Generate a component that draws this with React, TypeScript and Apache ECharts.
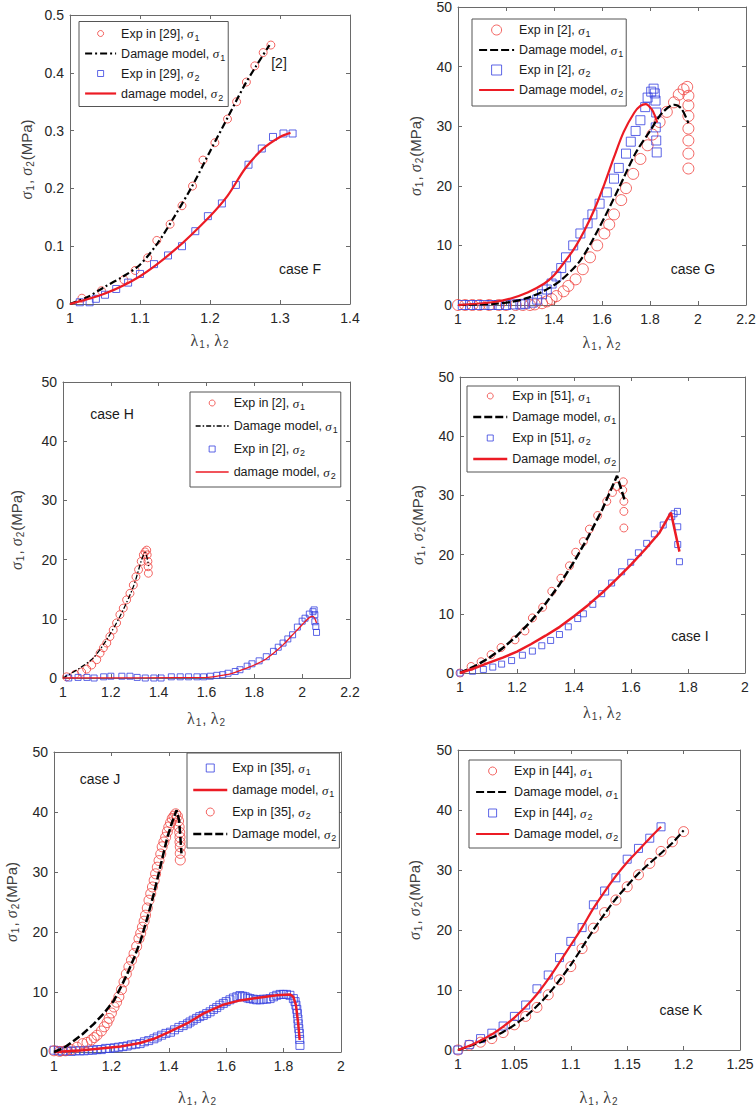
import React, { useEffect, useRef } from 'react';
import * as echarts from 'echarts';

// ---------------- Data (λ, σ) ----------------
// Case F
const fExpS1 = [[1.017,0.010],[1.045,0.023],[1.077,0.042],[1.093,0.058],[1.111,0.080],[1.124,0.110],[1.143,0.138],[1.160,0.170],[1.175,0.204],[1.190,0.249],[1.207,0.279],[1.225,0.320],[1.238,0.350],[1.252,0.384],[1.264,0.412],[1.276,0.435],[1.287,0.448]];
const fModelS1 = [[1,0],[1.025,0.012],[1.05,0.030],[1.075,0.047],[1.1,0.068],[1.125,0.105],[1.15,0.153],[1.175,0.205],[1.2,0.264],[1.225,0.322],[1.25,0.380],[1.265,0.41],[1.285,0.448]];
const fExpS2 = [[1.014,0.003],[1.028,0.003],[1.037,0.009],[1.05,0.016],[1.066,0.026],[1.083,0.037],[1.1,0.052],[1.12,0.069],[1.14,0.084],[1.16,0.100],[1.179,0.126],[1.197,0.152],[1.217,0.174],[1.237,0.206],[1.255,0.241],[1.274,0.269],[1.29,0.289],[1.305,0.295],[1.318,0.295]];
const fModelS2 = [[1,0],[1.05,0.018],[1.1,0.048],[1.15,0.094],[1.2,0.152],[1.225,0.187],[1.25,0.234],[1.275,0.268],[1.3,0.289],[1.315,0.296]];

// Case G
const gExpS1 = [[1.00,0],[1.03,0],[1.06,0],[1.09,0],[1.13,0],[1.17,0],[1.20,0],[1.24,0],[1.27,0],[1.30,0],[1.32,0.1],[1.35,0.3],[1.37,0.6],[1.39,1.0],[1.41,1.5],[1.44,2.3],[1.46,3.2],[1.49,4.3],[1.52,6.0],[1.55,8.0],[1.58,10.0],[1.61,12.0],[1.63,13.5],[1.65,15.2],[1.68,17.6],[1.70,19.6],[1.73,22.0],[1.76,24.5],[1.79,26.8],[1.81,28.6],[1.84,30.7],[1.87,32.4],[1.90,34.0],[1.92,35.3],[1.94,36.2],[1.955,36.6],[1.96,35.1],[1.96,33.5],[1.96,31.7],[1.96,29.6],[1.96,27.6],[1.96,25.4],[1.96,22.9]];
const gModelS1 = [[1,0],[1.15,0.2],[1.22,0.5],[1.29,1.2],[1.36,2.4],[1.43,4.2],[1.51,7.5],[1.59,13.1],[1.67,19.6],[1.74,25.5],[1.80,29.2],[1.85,32.2],[1.90,33.6],[1.93,33.0],[1.96,30.5]];
const gExpS2 = [[1.02,0],[1.05,0],[1.08,0],[1.11,0],[1.14,0],[1.17,0],[1.20,0],[1.23,0.1],[1.26,0.1],[1.28,0.2],[1.31,0.4],[1.33,0.9],[1.35,1.8],[1.37,2.6],[1.39,3.6],[1.41,4.8],[1.43,6.2],[1.45,8.0],[1.48,10.0],[1.51,12.0],[1.54,13.7],[1.56,15.2],[1.59,17.0],[1.62,18.9],[1.65,21.2],[1.67,23.0],[1.70,25.4],[1.72,27.4],[1.74,29.2],[1.76,31.0],[1.78,33.2],[1.79,34.8],[1.805,35.8],[1.815,36.3],[1.82,35.5],[1.823,34.3],[1.826,32.3],[1.824,29.8],[1.826,27.6],[1.828,25.6]];
const gModelS2 = [[1,0],[1.15,0.5],[1.22,1.1],[1.29,2.1],[1.36,3.6],[1.40,5.0],[1.44,7.0],[1.485,9.5],[1.527,12.5],[1.57,16.2],[1.61,20.3],[1.65,24.8],[1.69,29.0],[1.735,32.3],[1.76,33.4],[1.782,33.7],[1.806,32.9],[1.82,31.8],[1.83,30.6]];

// Case H
const hExpS1 = [[1.015,0.2],[1.05,0.6],[1.078,1.0],[1.099,1.5],[1.12,2.2],[1.141,3.1],[1.155,4.2],[1.169,5.1],[1.183,5.9],[1.196,7.0],[1.21,8.1],[1.224,9.3],[1.238,10.7],[1.252,11.8],[1.266,13.2],[1.28,14.3],[1.294,15.7],[1.305,17.1],[1.316,18.3],[1.327,19.7],[1.336,20.8],[1.343,21.3],[1.35,21.6],[1.352,20.8],[1.355,19.7],[1.356,18.8],[1.357,17.7]];
const hModelS1 = [[1,0],[1.071,1.7],[1.127,3.4],[1.183,6.5],[1.238,10.4],[1.294,15.4],[1.329,20.0],[1.343,21.2],[1.352,20.2],[1.358,18.9]];
const hExpS2 = [[1.024,0],[1.063,0.1],[1.10,0.1],[1.13,0],[1.17,0.2],[1.20,0.3],[1.246,0.3],[1.28,0.3],[1.31,0.1],[1.344,0],[1.38,0],[1.41,0],[1.453,0.2],[1.49,0.2],[1.525,0.2],[1.56,0.2],[1.588,0.2],[1.616,0.3],[1.643,0.45],[1.668,0.56],[1.69,0.8],[1.72,1.1],[1.74,1.4],[1.77,2.0],[1.79,2.4],[1.82,2.9],[1.85,3.6],[1.88,4.5],[1.90,5.2],[1.92,5.9],[1.94,6.6],[1.96,7.3],[1.98,8.6],[2.00,9.6],[2.012,10.1],[2.03,10.8],[2.045,11.2],[2.05,11.5],[2.053,10.7],[2.053,9.5],[2.057,8.7],[2.06,7.7]];
const hModelS2 = [[1,0],[1.6,0.1],[1.65,0.35],[1.70,0.7],[1.75,1.4],[1.80,2.2],[1.84,3.0],[1.88,4.2],[1.92,5.6],[1.96,7.3],[2.0,9.0],[2.03,10.2],[2.045,10.4],[2.06,9.3]];

// Case I
const iExpS1 = [[1.0,0],[1.039,1.1],[1.074,1.9],[1.109,3.1],[1.144,4.3],[1.193,5.6],[1.228,7.1],[1.254,9.3],[1.29,11.1],[1.322,13.8],[1.354,16.0],[1.384,18.1],[1.406,20.4],[1.433,22.2],[1.454,24.3],[1.483,26.6],[1.515,29.0],[1.535,30.5],[1.55,31.5],[1.573,32.3],[1.571,30.9],[1.575,29.0],[1.575,27.3],[1.575,24.5]];
const iModelS1 = [[1,0],[1.05,1.1],[1.1,2.5],[1.15,4.2],[1.2,6.3],[1.25,8.8],[1.3,11.7],[1.35,15.0],[1.4,18.8],[1.45,23.0],[1.5,27.7],[1.551,33.3],[1.579,29.0]];
const iExpS2 = [[1,0],[1.044,0.3],[1.082,0.6],[1.115,1.0],[1.146,1.5],[1.181,2.1],[1.219,3.0],[1.254,3.7],[1.287,4.6],[1.318,5.5],[1.349,6.5],[1.38,7.8],[1.413,9.2],[1.433,10.0],[1.466,11.6],[1.497,13.4],[1.532,15.2],[1.567,17.1],[1.599,18.7],[1.626,20.3],[1.655,21.9],[1.682,23.5],[1.713,25.0],[1.743,26.4],[1.751,26.9],[1.763,27.3],[1.764,24.7],[1.764,21.7],[1.77,18.8]];
const iModelS2 = [[1,0],[1.05,0.8],[1.1,1.7],[1.15,2.6],[1.2,3.6],[1.25,4.9],[1.3,6.3],[1.35,7.8],[1.4,9.6],[1.45,11.5],[1.5,13.6],[1.55,15.9],[1.6,18.3],[1.65,20.9],[1.7,23.7],[1.74,27.1],[1.77,20.5]];

// Case J
const jExpS1 = [[1.00,0.3],[1.015,0.2],[1.03,0.1],[1.045,0.2],[1.06,0.1],[1.075,0.2],[1.09,0.2],[1.105,0.2],[1.12,0.3],[1.135,0.3],[1.15,0.4],[1.165,0.4],[1.18,0.6],[1.195,0.6],[1.21,0.7],[1.225,0.8],[1.24,0.9],[1.255,1.0],[1.27,1.2],[1.285,1.3],[1.30,1.4],[1.315,1.7],[1.33,1.9],[1.348,2.2],[1.36,2.5],[1.375,2.8],[1.39,3.1],[1.406,3.3],[1.42,3.7],[1.435,4.1],[1.45,4.4],[1.465,4.7],[1.474,5.0],[1.485,5.3],[1.497,5.6],[1.508,5.9],[1.52,6.1],[1.532,6.4],[1.544,6.7],[1.556,7.1],[1.567,7.4],[1.578,7.8],[1.59,8.1],[1.60,8.4],[1.613,8.7],[1.625,9.0],[1.637,9.2],[1.648,9.4],[1.657,9.3],[1.666,9.2],[1.675,9.0],[1.683,8.9],[1.695,8.8],[1.706,8.7],[1.718,8.7],[1.729,8.8],[1.741,8.8],[1.753,8.9],[1.765,9.2],[1.776,9.45],[1.788,9.6],[1.799,9.6],[1.81,9.6],[1.822,9.45],[1.834,8.9],[1.84,8.4],[1.843,7.8],[1.846,7.1],[1.848,6.4],[1.85,5.5],[1.851,4.7],[1.853,3.9],[1.855,3.1],[1.856,2.1],[1.857,1.1]];
const jModelS1 = [[1,0],[1.1,0.3],[1.232,0.9],[1.3,1.5],[1.348,2.2],[1.40,3.3],[1.465,4.8],[1.52,6.4],[1.59,7.9],[1.648,8.6],[1.706,9.0],[1.776,9.45],[1.822,9.6],[1.834,9.2],[1.843,7.8],[1.851,4.7],[1.856,2.0]];
const jExpS2 = [[1.00,0.2],[1.02,0.1],[1.04,0.2],[1.06,0.4],[1.08,0.8],[1.10,1.4],[1.115,1.6],[1.13,2.0],[1.14,2.4],[1.15,2.8],[1.165,3.5],[1.175,4.2],[1.185,4.9],[1.192,5.6],[1.20,6.5],[1.209,7.5],[1.218,8.3],[1.226,9.2],[1.235,10.4],[1.244,11.7],[1.252,13.0],[1.261,14.2],[1.27,15.3],[1.279,16.4],[1.288,17.6],[1.296,18.9],[1.302,19.8],[1.308,20.8],[1.314,21.8],[1.319,22.8],[1.325,24.0],[1.331,25.3],[1.337,26.4],[1.343,27.5],[1.349,28.6],[1.354,29.7],[1.36,30.8],[1.366,31.9],[1.372,33.0],[1.377,34.2],[1.383,35.0],[1.389,35.8],[1.395,36.7],[1.40,37.5],[1.406,38.2],[1.412,38.9],[1.418,39.3],[1.424,39.7],[1.43,39.3],[1.434,38.5],[1.436,37.5],[1.438,36.6],[1.439,35.8],[1.439,35.0],[1.44,34.2],[1.44,33.1],[1.44,32.0]];
const jModelS2 = [[1,0],[1.035,0.7],[1.07,1.9],[1.10,3.0],[1.139,4.7],[1.175,6.5],[1.209,8.6],[1.235,11.0],[1.256,13.1],[1.28,15.8],[1.302,18.6],[1.325,22.3],[1.348,26.4],[1.372,31.2],[1.395,35.8],[1.413,38.5],[1.427,40.3],[1.436,38.6],[1.441,35.3],[1.444,33.1]];

// Case K
const kExpS1 = [[1.00,0],[1.01,0.8],[1.02,1.3],[1.03,1.9],[1.04,2.9],[1.05,4.2],[1.06,5.6],[1.07,7.1],[1.08,9.2],[1.09,11.7],[1.10,13.9],[1.11,16.9],[1.12,20.3],[1.13,22.9],[1.14,25.0],[1.15,27.2],[1.16,29.2],[1.17,31.1],[1.18,33.1],[1.19,34.7],[1.20,36.4]];
const kModelS1 = [[1,0],[1.02,1.3],[1.04,3.0],[1.06,5.6],[1.08,9.3],[1.10,14.2],[1.12,20.0],[1.13,22.7],[1.14,25.2],[1.16,29.4],[1.18,32.8],[1.19,34.5],[1.2,36.6]];
const kExpS2 = [[1.00,0],[1.01,0.9],[1.02,1.9],[1.03,2.8],[1.04,4.0],[1.05,5.6],[1.06,7.5],[1.07,10.2],[1.08,12.5],[1.09,15.4],[1.10,18.1],[1.11,20.4],[1.12,24.2],[1.13,26.5],[1.14,28.7],[1.15,31.8],[1.16,33.6],[1.17,35.3],[1.18,37.2]];
const kModelS2 = [[1,0],[1.01,0.7],[1.02,1.6],[1.03,2.6],[1.04,3.9],[1.05,5.4],[1.06,7.2],[1.07,9.3],[1.08,11.8],[1.09,14.6],[1.10,17.5],[1.11,20.4],[1.12,23.6],[1.13,26.4],[1.14,29.0],[1.15,31.3],[1.16,33.3],[1.17,35.3],[1.18,37.2]];

// Axis ranges [min, max, interval]
const xF = [1, 1.4, 0.1], yF = [0, 0.5, 0.1];
const xG = [1, 2.2, 0.2], yG = [0, 50, 10];
const xH = [1, 2.2, 0.2], yH = [0, 50, 10];
const xI = [1, 2, 0.2], yI = [0, 50, 10];
const xJ = [1, 2, 0.2], yJ = [0, 50, 10];
const xK = [1, 1.25, 0.05], yK = [0, 50, 10];

// ---------------- Styles ----------------
const FONT = 'Liberation Sans';
const AXIS_COLOR = '#6a6a6a';
const TICK_TEXT = '#262626';
const NAME_COLOR = '#404040';
const TEXT_COLOR = '#1a1a1a';
const RED_M = '#f0403c';
const BLUE_M = '#3440e0';
const RED_L = '#ec1b24';
const BLACK = '#000000';
const DASH = [8, 3];
const DASHDOT = [7, 3, 2, 3];
const DASHDOT_THIN = [5, 2, 1.5, 2];
const SQUARE_ICON = 'path://M0,0L10,0L10,10L0,10Z';

type S = { name: string; data: number[][]; kind: 'circle' | 'square' | 'line'; color: string; size?: number; width?: number; dash?: any; smooth?: number | boolean };

const circ = (name: string, data: number[][], size: number): S => ({ name, data, kind: 'circle', color: RED_M, size });
const sq = (name: string, data: number[][], size: number): S => ({ name, data, kind: 'square', color: BLUE_M, size });
const ln = (name: string, data: number[][], color: string, width: number, dash: any, smooth: number | boolean): S => ({ name, data, kind: 'line', color, width, dash, smooth });

const panels = [
  {
    key: 'F', grid: { left: 70, top: 15, width: 280, height: 289 }, x: xF, y: yF, xGap: 27, yGap: 35,
    legend: { left: 79, top: 21.5, itemWidth: 31, itemHeight: 6, itemGap: 2, padding: [3, 3, 4, 5] },
    series: [
      circ('Exp in [29], σ1', fExpS1, 8),
      ln('Damage model, σ1', fModelS1, BLACK, 2.2, DASHDOT, 0.3),
      sq('Exp in [29], σ2', fExpS2, 7),
      ln('damage model, σ2', fModelS2, RED_L, 2.2, 'solid', 0.3),
    ],
    notes: [{ text: 'case F', x: 300, y: 269 }, { text: '[2]', x: 279, y: 63 }],
  },
  {
    key: 'G', grid: { left: 458, top: 7, width: 288, height: 298 }, x: xG, y: yG, xGap: 28, yGap: 34,
    legend: { left: 472, top: 19, itemWidth: 35, itemHeight: 10, itemGap: 2, padding: [2, 3, 7, 6] },
    series: [
      circ('Exp in [2], σ1', gExpS1, 11),
      ln('Damage model, σ1', gModelS1, BLACK, 2.2, DASH, 0.3),
      sq('Exp in [2], σ2', gExpS2, 9),
      ln('Damage model, σ2', gModelS2, RED_L, 2.2, 'solid', 0.3),
    ],
    notes: [{ text: 'case G', x: 693, y: 269 }],
  },
  {
    key: 'H', grid: { left: 63, top: 382, width: 287, height: 296 }, x: xH, y: yH, xGap: 31, yGap: 38,
    legend: { left: 190, top: 392, itemWidth: 33, itemHeight: 6, itemGap: 5, padding: [2, 3, 6, 5] },
    series: [
      circ('Exp in [2], σ1', hExpS1, 8),
      ln('Damage model, σ1', hModelS1, BLACK, 1.3, DASHDOT_THIN, 0.3),
      sq('Exp in [2], σ2', hExpS2, 6),
      ln('damage model, σ2', hModelS2, RED_L, 1.3, 'solid', 0.3),
    ],
    notes: [{ text: 'case H', x: 112, y: 414 }],
  },
  {
    key: 'I', grid: { left: 460, top: 377, width: 285, height: 296 }, x: xI, y: yI, xGap: 30, yGap: 34,
    legend: { left: 467, top: 386, itemWidth: 34, itemHeight: 6, itemGap: 3, padding: [1, 3, 4, 5] },
    series: [
      circ('Exp in [51], σ1', iExpS1, 8),
      ln('Damage model, σ1', iModelS1, BLACK, 2.5, DASH, false),
      sq('Exp in [51], σ2', iExpS2, 6),
      ln('Damage model, σ2', iModelS2, RED_L, 2.5, 'solid', false),
    ],
    notes: [{ text: 'case I', x: 690, y: 636 }],
  },
  {
    key: 'J', grid: { left: 54, top: 752, width: 287, height: 300 }, x: xJ, y: yJ, xGap: 36, yGap: 34,
    legend: { left: 187, top: 753, itemWidth: 34, itemHeight: 8, itemGap: 4, padding: [6, 3, 5, 5] },
    series: [
      sq('Exp in [35], σ1', jExpS1, 8),
      ln('damage model, σ1', jModelS1, RED_L, 2.5, 'solid', false),
      circ('Exp in [35], σ2', jExpS2, 10),
      ln('Damage model, σ2', jModelS2, BLACK, 2.5, DASH, false),
    ],
    notes: [{ text: 'case J', x: 100, y: 779 }],
  },
  {
    key: 'K', grid: { left: 458, top: 750, width: 282, height: 300 }, x: xK, y: yK, xGap: 38, yGap: 35,
    legend: { left: 469, top: 760, itemWidth: 33, itemHeight: 8, itemGap: 3, padding: [2, 3, 5, 6] },
    series: [
      circ('Exp in [44], σ1', kExpS1, 10),
      ln('Damage model, σ1', kModelS1, BLACK, 2.2, DASH, 0.3),
      sq('Exp in [44], σ2', kExpS2, 8),
      ln('Damage model, σ2', kModelS2, RED_L, 2.2, 'solid', 0.3),
    ],
    notes: [{ text: 'case K', x: 681, y: 1010 }],
  },
];

const fmt = (v: number) => String(Math.round(v * 1000) / 1000);

const nameRich = {
  g: { fontFamily: 'Liberation Serif', fontStyle: 'italic', fontSize: 16, lineHeight: 18, color: NAME_COLOR },
  l: { fontFamily: 'Liberation Serif', fontSize: 16, lineHeight: 18, color: NAME_COLOR },
  s: { fontFamily: FONT, fontSize: 10, lineHeight: 18, padding: [9, 1, 0, 1], color: NAME_COLOR },
};
const nameTextStyle = { fontFamily: FONT, fontSize: 15, color: NAME_COLOR, lineHeight: 18, rich: nameRich };
const X_NAME = '{l|λ}{s|1}, {l|λ}{s|2}';
const Y_NAME = '{g|σ}{s|1}, {g|σ}{s|2}(MPa)';

const legendRich = {
  g: { fontFamily: 'Liberation Serif', fontStyle: 'italic', fontSize: 13, lineHeight: 18, color: TEXT_COLOR },
  s: { fontFamily: FONT, fontSize: 9, lineHeight: 18, padding: [8, 0, 0, 1], color: TEXT_COLOR },
};

const uid = (key: string, name: string) => `${name} (${key})`;
const display = (full: string) => full.replace(/ \([A-K]\)$/, '').replace(/σ(\d)/, '{g|σ}{s|$1}');

function buildOption() {
  const axisLine = { show: true, onZero: false, lineStyle: { color: AXIS_COLOR, width: 1 } };
  const axisTick = { show: true, inside: true, length: 4, lineStyle: { color: AXIS_COLOR, width: 1 } };
  const label = { show: true, color: TICK_TEXT, fontSize: 14, fontFamily: FONT, formatter: fmt, showMinLabel: true, showMaxLabel: true, hideOverlap: false };

  const xAxis: any[] = [];
  const yAxis: any[] = [];
  const series: any[] = [];
  const legend: any[] = [];
  const graphics: any[] = [];

  panels.forEach((p, i) => {
    const [x0, x1, xi] = p.x;
    const [y0, y1, yi] = p.y;
    xAxis.push({
      gridIndex: i, type: 'value', position: 'bottom', min: x0, max: x1, interval: xi,
      name: X_NAME, nameLocation: 'middle', nameGap: p.xGap, nameTextStyle, nameMoveOverlap: false,
      axisLine, axisTick, axisLabel: { ...label, margin: 7 }, splitLine: { show: false },
    });
    xAxis.push({
      gridIndex: i, type: 'value', position: 'top', min: x0, max: x1, interval: xi,
      axisLine, axisTick, axisLabel: { show: false }, splitLine: { show: false },
    });
    yAxis.push({
      gridIndex: i, type: 'value', position: 'left', min: y0, max: y1, interval: yi,
      name: Y_NAME, nameLocation: 'middle', nameGap: p.yGap, nameTextStyle, nameMoveOverlap: false,
      axisLine, axisTick, axisLabel: { ...label, margin: 6 }, splitLine: { show: false },
    });
    yAxis.push({
      gridIndex: i, type: 'value', position: 'right', min: y0, max: y1, interval: yi,
      axisLine, axisTick, axisLabel: { show: false }, splitLine: { show: false },
    });

    p.series.forEach((s) => {
      const name = uid(p.key, s.name);
      const base: any = {
        name, xAxisIndex: 2 * i, yAxisIndex: 2 * i, data: s.data, silent: true,
        emphasis: { disabled: true }, animation: false,
      };
      if (s.kind === 'line') {
        series.push({
          ...base, type: 'line', symbol: 'none', showSymbol: false, smooth: s.smooth, color: s.color,
          lineStyle: { color: s.color, width: s.width, type: s.dash },
        });
      } else {
        series.push({
          ...base, type: 'scatter', symbol: s.kind === 'circle' ? 'circle' : 'rect', symbolSize: s.size,
          color: 'transparent',
          itemStyle: { color: 'transparent', borderColor: s.color, borderWidth: 1 },
        });
      }
    });

    legend.push({
      show: true, orient: 'vertical', left: p.legend.left, top: p.legend.top,
      itemWidth: p.legend.itemWidth, itemHeight: p.legend.itemHeight, itemGap: p.legend.itemGap,
      padding: p.legend.padding, borderColor: '#555', borderWidth: 1, backgroundColor: '#ffffff',
      selectedMode: false, align: 'left', symbolKeepAspect: true,
      itemStyle: { borderWidth: 1 },
      textStyle: { fontFamily: FONT, fontSize: 12.5, color: TEXT_COLOR, lineHeight: 18, rich: legendRich },
      formatter: display,
      data: p.series.map((s) => {
        const name = uid(p.key, s.name);
        if (s.kind === 'line') {
          return { name, itemStyle: { opacity: 0, color: 'transparent', borderWidth: 0 }, lineStyle: { color: s.color, width: s.width, type: s.dash } };
        }
        const item: any = { name, itemStyle: { color: 'transparent', borderColor: s.color, borderWidth: 1 } };
        if (s.kind === 'square') item.icon = SQUARE_ICON;
        return item;
      }),
    });

    p.notes.forEach((n) => {
      graphics.push({
        type: 'text', x: n.x, y: n.y, silent: true, z: 100,
        style: { text: n.text, fill: TEXT_COLOR, font: `14px "${FONT}"`, align: 'center', verticalAlign: 'middle' },
      });
    });
  });

  return {
    animation: false,
    backgroundColor: '#ffffff',
    textStyle: { fontFamily: FONT },
    grid: panels.map((p) => ({ ...p.grid, show: false, containLabel: false, outerBoundsMode: 'none' })),
    xAxis, yAxis, series, legend,
    graphic: { elements: graphics },
  };
}

export default function App() {
  const ref = useRef<HTMLDivElement>(null);
  useEffect(() => {
    if (!ref.current) return;
    const chart = echarts.init(ref.current, null, { renderer: 'svg' });
    chart.setOption(buildOption() as any);
    return () => chart.dispose();
  }, []);
  return (
    <div
      ref={ref}
      style={{ position: 'absolute', left: 0, top: 0, width: 756, height: 1106, background: '#fff' }}
    />
  );
}
